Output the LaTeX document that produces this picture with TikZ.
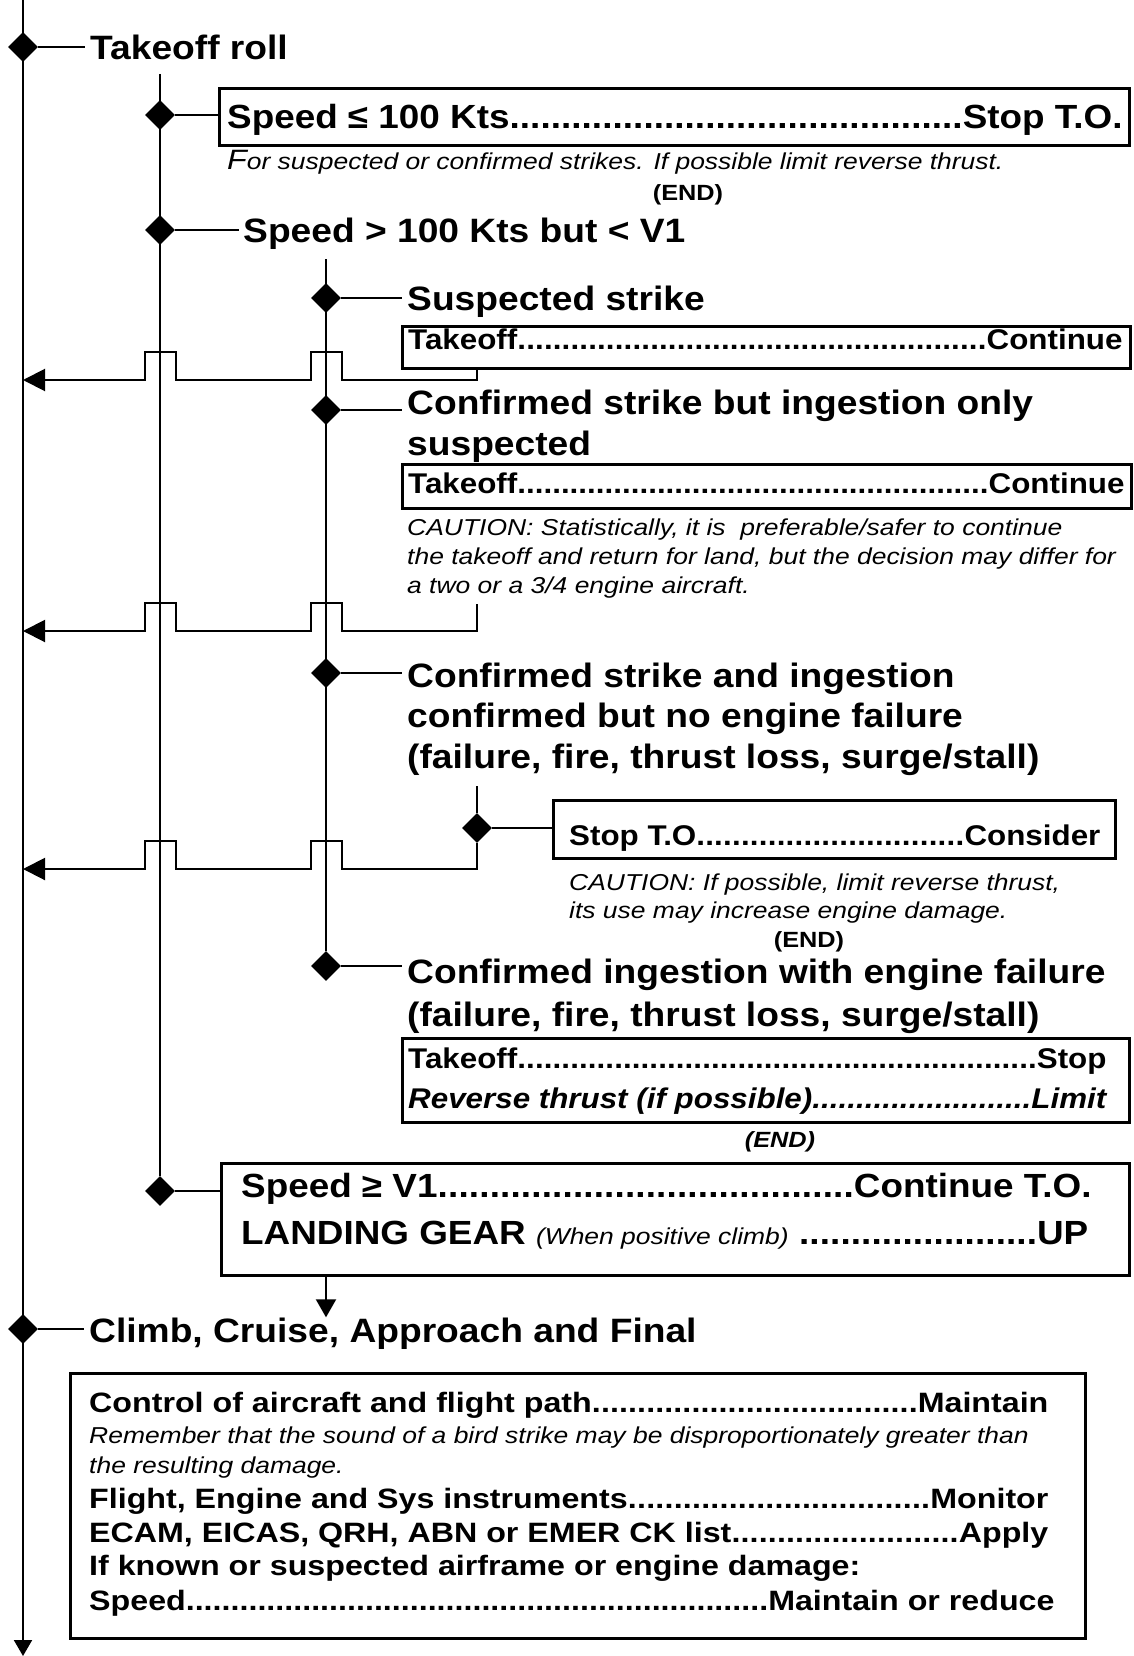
\documentclass[tikz,border=0pt]{standalone}
\usepackage{fontspec}
\setmainfont{Liberation Sans}
\newfontfamily\headfont{Liberation Sans}[FakeStretch=1.1]
\newfontfamily\notefont{Liberation Sans}[FakeStretch=1.15]
\usetikzlibrary{arrows.meta}
\usetikzlibrary{shapes.geometric}
\usetikzlibrary{math}
\newcommand\dotrow[3]{\hbox to #1{#2\xleaders\hbox{.}\hfill#3}}
\newcommand\hops[1]{-- (341.5,#1) -- ++(0,-28) -- ++(-31,0) -- ++(0,28) -- (175.5,#1) -- ++(0,-28) -- ++(-31,0) -- ++(0,28)}

\tikzset{
  flow/.style={line width=2pt},
  backline/.style={flow,-{Triangle[length=22pt,width=22pt]}},
  knot/.style={diamond,fill=black,inner sep=0pt,minimum width=30pt,minimum height=30pt},
  panel/.style={draw,line width=3pt,anchor=north west,inner sep=0pt},
  headtxt/.style={anchor=base west,inner sep=0pt,align=left,font=\headfont\bfseries\fontsize{33.8}{40.5}\selectfont},
  bigrow/.style={anchor=base west,inner sep=0pt,font=\headfont\bfseries\fontsize{33.5}{40}\selectfont},
  boxrow/.style={anchor=base west,inner sep=0pt,font=\headfont\bfseries\fontsize{28.5}{31}\selectfont},
  lowrow/.style={anchor=base west,inner sep=0pt,font=\notefont\bfseries\fontsize{28}{32}\selectfont},
  notetxt/.style={anchor=base west,inner sep=0pt,align=left,font=\notefont\itshape\fontsize{23}{29}\selectfont},
  endmark/.style={inner sep=0pt,font=\notefont\bfseries\fontsize{22}{25}\selectfont}
}

\begin{document}
\begin{tikzpicture}[x=1pt,y=-1pt]
\tikzmath{
\xa=23;
\xb=160;
\xc=326;
\xd=477;
}
\useasboundingbox (0,0) rectangle (1133,1656);

% trunk lines
\coordinate (top) at (\xa,0);
\coordinate (bot) at (\xa,1656);
\coordinate (top2) at (\xb,74);
\coordinate (top3) at (\xc,259);
\coordinate (top4) at (\xd,786);
\coordinate (ret2) at (\xd,604);
\coordinate (j1) at (\xa,380);
\coordinate (j2) at (\xa,631);
\coordinate (j3) at (\xa,869);
\draw[flow,-{Triangle[length=16pt,width=18pt]}] (top) -- (bot);

% takeoff roll
\node[knot] (k1) at (\xa,47) {};
\node[headtxt] (t1) at (90,60) {Takeoff roll};
\draw[flow,shorten >=5pt] (k1.east) -- (t1.west |- k1);

\node[knot] (k2) at (\xb,115) {};
\node[panel,minimum width=910pt,minimum height=57pt] (b1) at (218,87) {};
\node[bigrow] (s1) at (227,129) {\dotrow{895pt}{Speed ≤ 100 Kts}{Stop T.O.}};
\draw[flow] (k2.east) -- (k2 -| b1.west);
\node[notetxt] (n1) at (227,170) {{\fontsize{28}{29}\selectfont F}or suspected or confirmed strikes. If possible limit reverse thrust.};
\node[endmark] (e1) at (688,195) {(END)};

\node[knot] (k3) at (\xb,230) {};
\node[headtxt] (t3) at (243,242) {Speed > 100 Kts but < V1};
\draw[flow,shorten >=4pt] (k3.east) -- (t3.west |- k3);

% speed > 100 kts branches
\node[knot] (k4) at (\xc,298) {};
\node[headtxt] (t4) at (407,310) {Suspected strike};
\draw[flow,shorten >=5pt] (k4.east) -- (t4.west |- k4);
\node[panel,minimum width=728pt,minimum height=42pt] (b2) at (401,325) {};
\node[boxrow] (s2) at (408,349) {\dotrow{714pt}{Takeoff}{Continue}};
\draw[backline] (b2.south -| top4) -- (\xd,380) \hops{380} -- (j1);

\node[knot] (k5) at (\xc,410) {};
\node[headtxt] (t5) at (407,455) {Confirmed strike but ingestion only\\suspected};
\draw[flow,shorten >=5pt] (k5.east) -- (t5.west |- k5);
\node[panel,minimum width=729pt,minimum height=44pt] (b3) at (401,463) {};
\node[boxrow] (s3) at (408,493) {\dotrow{716pt}{Takeoff}{Continue}};
\node[notetxt] (n2) at (407,593) {CAUTION: Statistically, it is\ \ preferable/safer to continue\\the takeoff and return for land, but the decision may differ for\\a two or a 3/4 engine aircraft.};
\draw[backline] (ret2) -- (\xd,631) \hops{631} -- (j2);

\node[knot] (k7) at (\xc,673) {};
\node[headtxt] (t7) at (407,768) {Confirmed strike and ingestion\\confirmed but no engine failure\\(failure, fire, thrust loss, surge/stall)};
\draw[flow,shorten >=5pt] (k7.east) -- (k7 -| t7.west);

\node[knot] (kc) at (\xd,828) {};
\node[panel,minimum width=562pt,minimum height=58pt] (b4) at (552,799) {};
\node[boxrow] (s4) at (569,845) {\dotrow{531pt}{Stop T.O.}{Consider}};
\draw[flow] (top4) -- (kc);
\draw[flow] (kc.east) -- (kc -| b4.west);
\draw[backline] (kc) -- (\xd,869) \hops{869} -- (j3);
\node[notetxt,font=\notefont\itshape\fontsize{23}{28}\selectfont] (n3) at (569,918) {CAUTION: If possible, limit reverse thrust,\\its use may increase engine damage.};
\node[endmark] (e2) at (809,942) {(END)};

\node[knot] (k8) at (\xc,966) {};
\node[headtxt] (t8) at (407,1026) {Confirmed ingestion with engine failure\\[2.5pt](failure, fire, thrust loss, surge/stall)};
\draw[flow,shorten >=5pt] (k8.east) -- (k8 -| t8.west);
\node[panel,minimum width=727pt,minimum height=84pt] (b5) at (401,1037) {};
\node[boxrow] (s5) at (408,1068) {\dotrow{698pt}{Takeoff}{Stop}};
\node[boxrow,font=\headfont\bfseries\itshape\fontsize{28.5}{31}\selectfont] (s5b) at (408,1108) {\dotrow{698pt}{Reverse thrust (if possible)}{Limit}};
\node[endmark,font=\notefont\bfseries\itshape\fontsize{22}{25}\selectfont] (e3) at (780,1142) {(END)};
\draw[flow] (top3) -- (k8);

% speed >= V1
\node[knot] (k9) at (\xb,1191) {};
\node[panel,minimum width=908pt,minimum height=112pt] (b6) at (220,1162) {};
\node[bigrow] (s6) at (241,1197) {\dotrow{850pt}{Speed ≥ V1}{Continue T.O.}};
\node[bigrow] (s6b) at (241,1244) {\dotrow{847pt}{LANDING GEAR {\notefont\mdseries\itshape\fontsize{23}{25}\selectfont(When positive climb)} }{UP}};
\draw[flow] (top2) -- (k9);
\draw[flow] (k9.east) -- (k9 -| b6.west);

% climb, cruise
\node[knot] (k10) at (\xa,1329) {};
\node[headtxt] (t10) at (89,1342) {Climb, Cruise, Approach and Final};
\draw[flow,shorten >=5pt] (k10.east) -- (t10.west |- k10);
\draw[flow,-{Triangle[length=18pt,width=20pt]}] (b6.south -| top3) -- (t10.north -| top3);

\node[panel,minimum width=1015pt,minimum height=265pt] (b7) at (69,1372) {};
\node[lowrow] (q1) at (89,1412) {\dotrow{959pt}{Control of aircraft and flight path}{Maintain}};
\node[notetxt,font=\notefont\itshape\fontsize{23}{30}\selectfont] (q2) at (89,1473) {Remember that the sound of a bird strike may be disproportionately greater than\\the resulting damage.};
\node[lowrow] (q3) at (89,1508) {\dotrow{959pt}{Flight, Engine and Sys instruments}{Monitor}};
\node[lowrow] (q4) at (89,1542) {\dotrow{959pt}{ECAM, EICAS, QRH, ABN or EMER CK list}{Apply}};
\node[lowrow] (q5) at (89,1575) {If known or suspected airframe or engine damage:};
\node[lowrow] (q6) at (89,1610) {\dotrow{965pt}{Speed}{Maintain or reduce}};
\end{tikzpicture}
\end{document}
